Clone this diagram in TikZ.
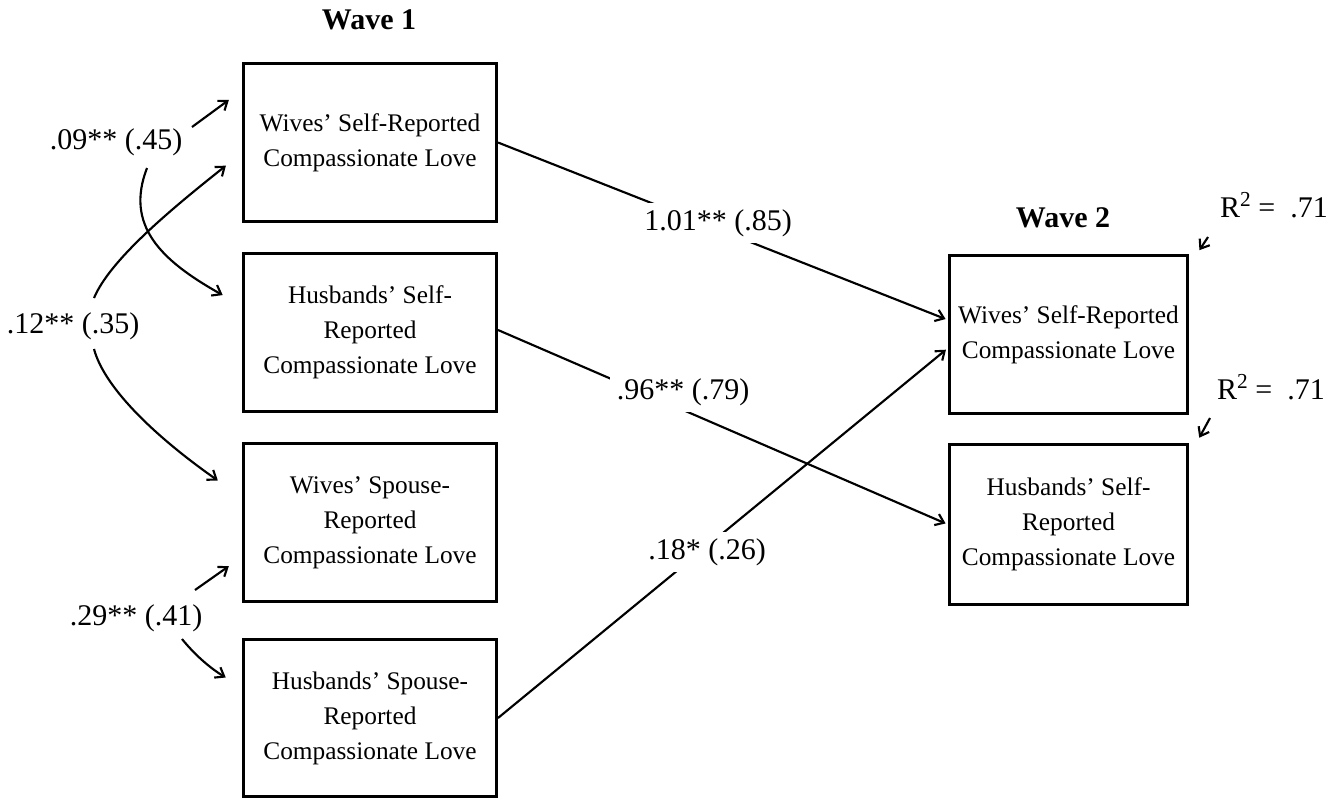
\documentclass[tikz,border=0pt]{standalone}
\usepackage{fontspec}
\setmainfont{Liberation Serif}
\usetikzlibrary{arrows.meta,calc}

\begin{document}
\begin{tikzpicture}[x=0.75pt, y=-0.75pt,
    varbox/.style={draw, line width=2.2pt, minimum width=189.8pt, minimum height=118pt,
      align=center, inner sep=0pt, font=\fontsize{19}{26.25}\selectfont},
    coef/.style={fill=white, inner sep=5pt, font=\fontsize{22.5}{27}\selectfont},
    wave/.style={font=\fontsize{22.5}{27}\selectfont\bfseries},
    link/.style={line width=1.6pt, -{Straight Barb[length=6pt,width=9pt]}, shorten >=2pt}]

    % Fix the page to the size of the figure
    \useasboundingbox (0,0) rectangle (1341,801);

    % Wave headings
    \node[wave] (wave1) at (369,20) {Wave 1};
    \node[wave] (wave2) at (1063,218) {Wave 2};

    % Wave 1 boxes
    \node[varbox] (w1wself) at (370,142.5) {Wives' Self-Reported\\Compassionate Love};
    \node[varbox] (w1hself) at (370,332.5) {Husbands' Self-\\Reported\\Compassionate Love};
    \node[varbox] (w1wsp) at (370,522.5) {Wives' Spouse-\\Reported\\Compassionate Love};
    \node[varbox] (w1hsp) at (370,718) {Husbands' Spouse-\\Reported\\Compassionate Love};

    % Wave 2 boxes
    \node[varbox, minimum width=178.5pt] (w2wself) at (1068.5,334.5) {Wives' Self-Reported\\Compassionate Love};
    \node[varbox, minimum width=178.5pt, minimum height=120pt] (w2hself) at (1068.5,524.5) {Husbands' Self-\\Reported\\Compassionate Love};

    % Paths from wave 1 to wave 2
    \draw[link] (w1wself.east) -- ($(w2wself.west)+(0,-14.5)$);
    \draw[link] ($(w1hself.east)+(0,-2.5)$) -- (w2hself.west);
    \draw[link] (w1hsp.east) -- ($(w2wself.west)+(0,13.5)$);

    % Path coefficients, laid over the lines
    \node[coef] (b101) at (718,223) {1.01** (.85)};
    \node[coef] (b96) at (683,392) {.96** (.79)};
    \node[coef] (b18) at (707,552) {.18* (.26)};

    % Covariances among the wave 1 scores
    \node[coef] (c09) at (116,142) {.09** (.45)};
    \node[coef] (c12) at (73,326) {.12** (.35)};
    \node[coef] (c29) at (136,618) {.29** (.41)};

    \draw[link] ($(c09.center)+(76,-15)$) -- ($(w1wself.north west)+(-11,36)$);
    \draw[link] ($(c09.center)+(31,26)$) .. controls (125,225) and (160,260) .. ($(w1hself.north west)+(-17,44)$);

    \draw[link] ($(c12.center)+(21,-28)$) .. controls (110,260) and (170,210) .. ($(w1wself.west)+(-14,21.5)$);
    \draw[link] ($(c12.center)+(21,23)$) .. controls (105,390) and (160,440) .. ($(w1wsp.west)+(-22,-40.5)$);

    \draw[link] ($(c29.center)+(59,-28)$) -- ($(w1wsp.south west)+(-11,-38)$);
    \draw[link] ($(c29.center)+(46,21)$) .. controls (195,655) and (210,668) .. ($(w1hsp.north west)+(-14,41)$);

    % Explained variance at wave 2
    \node[coef] (r2w) at (1274,205) {R\raisebox{8.5pt}{\fontsize{16}{16}\selectfont 2} =\ \ .71};
    \node[coef] (r2h) at (1271,387) {R\raisebox{8.5pt}{\fontsize{16}{16}\selectfont 2} =\ \ .71};

    \draw[link] ($(r2w.center)+(-66,32)$) -- ($(w2wself.north east)+(9,-2)$);
    \draw[link] ($(r2h.center)+(-61,31)$) -- ($(w2hself.north east)+(9,-3)$);

\end{tikzpicture}
\end{document}
